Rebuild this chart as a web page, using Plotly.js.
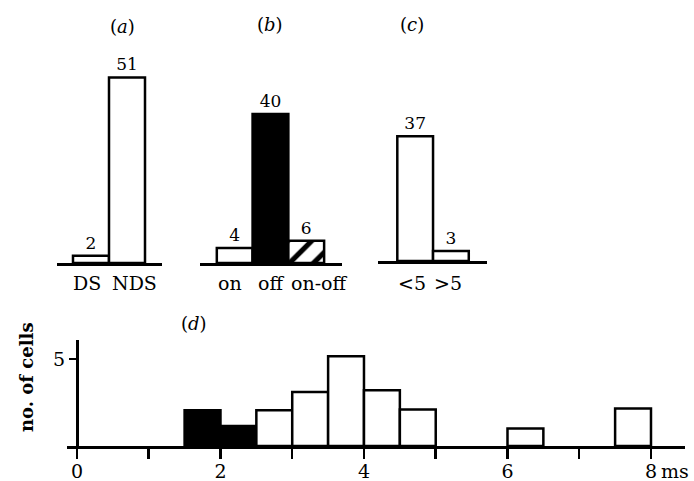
<!DOCTYPE html>
<html>
<head>
<meta charset="utf-8">
<script src="https://cdn.plot.ly/plotly-3.0.1.min.js"></script>
<style>html,body{margin:0;padding:0;background:#fff;}</style>
</head>
<body>
<div id="chart" style="width:694px;height:481px;"></div>
<script>
// (a) direction selectivity
const catsA = ['DS', 'NDS'];
const valsA = [2, 51];
// (b) response type
const catsB = ['on', 'off', 'on-off'];
const valsB = [4, 40, 6];
// (c) latency class
const catsC = ['<5', '>5'];
const valsC = [37, 3];
// (d) histogram (bin start in ms, number of cells)
const binsDark = [1.5, 2.0];
const countsDark = [2.05, 1.15];
const binsLight = [2.5, 3.0, 3.5, 4.0, 4.5, 6.0, 7.5];
const countsLight = [2.05, 3.1, 5.15, 3.2, 2.1, 1.0, 2.15];
const xTickVals = [0, 1, 2, 3, 4, 5, 6, 7, 8];
const xTickText = ['0', '', '2', '', '4', '', '6', '', '8'];
const yTickVals = [5];
const yTickText = ['5'];
const panelLabels = ['a', 'b', 'c', 'd'];
const yTitle = 'no. of cells';
const xUnit = 'ms';

const FONT = 'DejaVu Serif, serif';
const LW = 2.5;

const topBar = (x, y, xa, ya, color, pattern) => ({
  type: 'bar', x: x, y: y, xaxis: xa, yaxis: ya, width: 1,
  marker: Object.assign({color: color, line: {color: '#000', width: LW}}, pattern ? {pattern: pattern} : {}),
  texttemplate: '%{y}', textposition: 'outside', cliponaxis: false,
  constraintext: 'none',
  textfont: {family: FONT, size: 17, color: '#000'},
  hoverinfo: 'skip', showlegend: false
});

const traces = [
  topBar(catsA, valsA, 'x', 'y', '#fff'),
  topBar([catsB[0]], [valsB[0]], 'x2', 'y2', '#fff'),
  topBar([catsB[1]], [valsB[1]], 'x2', 'y2', '#000'),
  topBar([catsB[2]], [valsB[2]], 'x2', 'y2', '#fff',
    {shape: '/', fgcolor: '#000', fgopacity: 1, bgcolor: '#fff', fillmode: 'replace', size: 17, solidity: 0.3}),
  topBar(catsC, valsC, 'x3', 'y3', '#fff'),
  {type: 'bar', x: binsDark, y: countsDark, xaxis: 'x4', yaxis: 'y4', width: 0.5, offset: 0,
   marker: {color: '#000', line: {color: '#000', width: LW}}, hoverinfo: 'skip', showlegend: false},
  {type: 'bar', x: binsLight, y: countsLight, xaxis: 'x4', yaxis: 'y4', width: 0.5, offset: 0,
   marker: {color: '#fff', line: {color: '#000', width: LW}}, hoverinfo: 'skip', showlegend: false}
];

const hiddenY = (dom, rng) => ({domain: dom, range: rng, visible: false, fixedrange: true});
const topX = (dom, rng, anchor, cats) => ({
  domain: dom, range: rng, type: 'category', categoryorder: 'array', categoryarray: cats, anchor: anchor,
  showline: true, linewidth: LW, linecolor: '#000', showgrid: false, zeroline: false,
  showticklabels: false, ticks: '', fixedrange: true
});

const W = 694, H = 481;
const px = v => v / W, py = v => (H - v) / H;

const annotations = [];
const catLabel = (xa, cat, shift) => annotations.push({
  xref: xa, yref: 'paper', x: cat, y: py(283), text: cat, showarrow: false,
  xshift: shift, yanchor: 'middle', font: {family: FONT, size: 19, color: '#000'}
});
catLabel('x', catsA[0], -4);
catLabel('x', catsA[1], 7);
catLabel('x2', catsB[0], -5);
catLabel('x2', catsB[1], 1);
catLabel('x2', catsB[2], 13);
catLabel('x3', catsC[0], -3);
catLabel('x3', catsC[1], -3);

const panelPos = [[122, 26], [270, 25], [412, 25], [194, 323]];
panelLabels.forEach((p, i) => annotations.push({
  xref: 'paper', yref: 'paper', x: px(panelPos[i][0]), y: py(panelPos[i][1]),
  text: '(<i>' + p + '</i>)', showarrow: false, xanchor: 'center', yanchor: 'middle',
  font: {family: FONT, size: 18, color: '#000'}
}));
annotations.push({
  xref: 'x4', yref: 'paper', x: 8, y: py(471), text: xUnit, showarrow: false,
  xanchor: 'left', yanchor: 'middle', xshift: 8,
  font: {family: FONT, size: 19, color: '#000'}
});
annotations.push({
  xref: 'paper', yref: 'paper', x: px(26), y: py(377), text: '<b>' + yTitle + '</b>',
  textangle: -90, showarrow: false, xanchor: 'center', yanchor: 'middle',
  font: {family: FONT, size: 18, color: '#000'}
});

const layout = {
  width: W, height: H, autosize: false,
  margin: {l: 0, r: 0, t: 0, b: 0, pad: 0},
  paper_bgcolor: '#fff', plot_bgcolor: 'rgba(0,0,0,0)',
  barmode: 'overlay', bargap: 0,
  font: {family: FONT, color: '#000'},
  xaxis: topX([px(57), px(162)], [-0.944, 1.972], 'y', catsA),
  yaxis: hiddenY([py(263), py(40)], [0, 61.3]),
  xaxis2: topX([px(200), px(342)], [-0.97, 3.0], 'y2', catsB),
  yaxis2: hiddenY([py(263), py(40)], [0, 59.9]),
  xaxis3: topX([px(378), px(487)], [-1.04, 2.01], 'y3', catsC),
  yaxis3: hiddenY([py(261), py(40)], [0, 65.5]),
  xaxis4: {
    domain: [px(67), px(685)], range: [-0.139, 8.474], anchor: 'y4',
    showline: true, linewidth: LW, linecolor: '#000', showgrid: false, zeroline: false,
    tickmode: 'array', tickvals: xTickVals, ticktext: xTickText,
    ticks: 'outside', ticklen: 10, tickwidth: LW, tickcolor: '#000', ticklabelstandoff: -3,
    tickfont: {family: FONT, size: 19, color: '#000'}, fixedrange: true
  },
  yaxis4: {
    domain: [py(446), py(340)], range: [0, 6.09], anchor: 'free', position: px(77),
    showline: true, linewidth: LW, linecolor: '#000', showgrid: false, zeroline: false,
    tickmode: 'array', tickvals: yTickVals, ticktext: yTickText,
    ticks: 'outside', ticklen: 7, tickwidth: LW, tickcolor: '#000',
    tickfont: {family: FONT, size: 19, color: '#000'},
    fixedrange: true
  },
  annotations: annotations
};

Plotly.newPlot('chart', traces, layout, {staticPlot: true, displayModeBar: false});
</script>
</body>
</html>
